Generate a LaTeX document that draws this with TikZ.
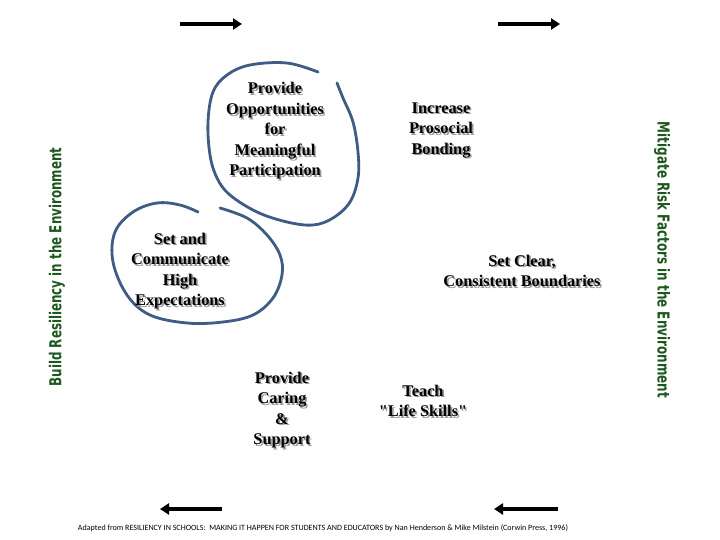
\documentclass[tikz,border=0pt]{standalone}
\usepackage{fontspec}
\setmainfont{Liberation Serif}
\newfontfamily\plainserif{Liberation Serif}
\newfontfamily\sidefont{DejaVu Sans}
\newfontfamily\capfont{Carlito}
\usetikzlibrary{arrows.meta}
\definecolor{loopblue}{RGB}{62,92,132}
\definecolor{sidegreen}{RGB}{30,88,30}
\tikzset{
  x=1pt, y=-1pt,
  maintxt/.style={align=center, inner sep=0pt, text=black,
    font=\fontsize{16.3}{20.5}\selectfont\bfseries},
  shadowtxt/.style={maintxt, text=black!40},
  loopline/.style={draw=loopblue, line width=2.8pt, line cap=round, line join=round},
  bigarrow/.style={line width=4pt, -{Triangle[length=9pt,width=11pt]}},
  sidetxt/.style={inner sep=0pt, text=sidegreen, font=\sidefont\fontsize{17}{17}\selectfont\bfseries}
}
\newcommand{\stext}[3]{%
  \node[shadowtxt] (#1s) at (#2) [xshift=1.6pt,yshift=-1.6pt] {#3};
  \node[maintxt] (#1) at (#2) {#3};}
\newcommand{\sq}{{\plainserif\char34}}
\begin{document}
\begin{tikzpicture}
\useasboundingbox[fill=white] (0,0) rectangle (720,540);

% hand-drawn loops
\draw[loopline] plot[smooth, tension=0.6] coordinates {
  (318,72) (287,63) (250,65) (227,75) (213,92) (208,122) (210,155) (217,178)
  (230,195) (257,212) (287,222) (313,225) (333,218) (350,202) (358,178)
  (358,152) (353,122) (343,98) (337,83)};
\draw[loopline] plot[smooth, tension=0.6] coordinates {
  (220,208) (247,218) (267,235) (280,255) (282,275) (273,298) (253,315)
  (223,322) (187,323) (150,315) (127,295) (113,262) (115,232) (133,212)
  (157,203) (180,205) (198,212)};

% texts
\stext{opp}{275,131}{Provide\\Opportunities\\for\\Meaningful\\Participation}
\stext{bond}{441,130}{Increase\\Prosocial\\Bonding}
\stext{expect}{180,271}{Set and\\Communicate\\High\\Expectations}
\stext{bound}{522,271}{Set Clear,\\Consistent Boundaries}
\stext{care}{282,410}{Provide\\Caring\\\&\\Support}
\stext{skills}{423,401}{Teach\\\sq Life Skills\sq}

% side labels
\node[sidetxt, rotate=90] (left) at (57,267) {\resizebox{239pt}{12.5pt}{Build Resiliency in the Environment}};
\node[sidetxt, rotate=-90] (right) at (662,260) {\resizebox{276pt}{12.5pt}{Mitigate Risk Factors in the Environment}};

% arrows
\coordinate (tla) at (180,24); \coordinate (tlb) at (242,24);
\coordinate (tra) at (498,24); \coordinate (trb) at (560,24);
\coordinate (bla) at (222,509); \coordinate (blb) at (160,509);
\coordinate (bra) at (558,509); \coordinate (brb) at (494,509);
\draw[bigarrow] (tla) -- (tlb);
\draw[bigarrow] (tra) -- (trb);
\draw[bigarrow] (bla) -- (blb);
\draw[bigarrow] (bra) -- (brb);

% caption
\node[inner sep=0pt] (cap) at (323,528) {\resizebox{490pt}{!}{\capfont Adapted from RESILIENCY IN SCHOOLS:\ \ MAKING IT HAPPEN FOR STUDENTS AND EDUCATORS by Nan Henderson \& Mike Milstein (Corwin Press, 1996)}};
\end{tikzpicture}
\end{document}
